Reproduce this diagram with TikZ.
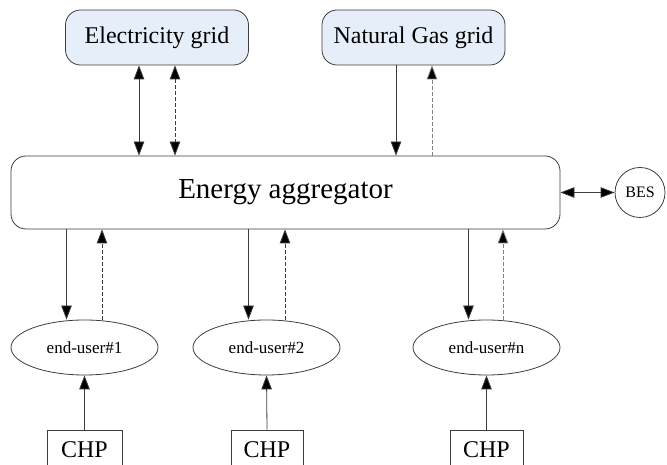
\documentclass[tikz,border=0pt]{standalone}
\usepackage{fontspec}
\setmainfont{Liberation Serif}
\newfontfamily\tnr{Liberation Serif}
\usetikzlibrary{arrows.meta,shapes.geometric}
\definecolor{gridblue}{RGB}{230,239,249}
\definecolor{linegray}{RGB}{60,60,60}
\begin{document}
\begin{tikzpicture}[x=1pt,y=1pt,
  every node/.style={inner sep=0pt,draw=linegray,line width=0.8pt},
  gridbox/.style={rounded corners=15pt,fill=gridblue,minimum width=183pt,minimum height=55pt,font=\tnr\fontsize{24}{28}\selectfont},
  userbox/.style={ellipse,minimum width=147pt,minimum height=55pt,font=\tnr\fontsize{17}{20}\selectfont},
  chpbox/.style={minimum height=40pt,font=\tnr\fontsize{24}{28}\selectfont},
  flow/.style={draw=linegray,line width=0.8pt,-{Triangle[length=14pt,width=10.5pt,fill=black]}},
  both/.style={flow,{Triangle[length=14pt,width=10.5pt,fill=black]}-{Triangle[length=14pt,width=10.5pt,fill=black]}},
  sig/.style={dash pattern=on 4pt off 2pt}]
\clip (0,0) rectangle (667,465);
% grids
\node[gridbox] (elec) at (157,427.5) {Electricity grid};
\node[gridbox] (gas) at (413.5,427.5) {Natural Gas grid};
% aggregator and storage
\node[rounded corners=15pt,minimum width=549pt,minimum height=73pt,font=\tnr\fontsize{29}{34}\selectfont] (agg) at (285.5,272.5) {Energy aggregator};
\node[circle,minimum size=50pt,font=\tnr\fontsize{16}{19}\selectfont] (bes) at (640,272.5) {BES};
% end-users
\node[userbox] (u1) at (84.5,117.5) {end-user\#1};
\node[userbox] (u2) at (266.5,117.5) {end-user\#2};
\node[userbox] (un) at (486.5,117.5) {end-user\#n};
\node[chpbox,minimum width=75pt] (chp1) at (84.5,15) {CHP};
\node[chpbox,minimum width=72pt] (chp2) at (267,15) {CHP};
\node[chpbox,minimum width=73pt] (chpn) at (486.5,15) {CHP};
% links to the grids
\draw[both] ([xshift=-18pt]elec.south) -- ([xshift=-18pt]elec.south |- agg.north);
\draw[both,sig] ([xshift=18pt]elec.south) -- ([xshift=18pt]elec.south |- agg.north);
\draw[flow] ([xshift=-17.5pt]gas.south) -- ([xshift=-17.5pt]gas.south |- agg.north);
\draw[flow,sig,draw=gray] ([xshift=18.5pt]gas.south |- agg.north) -- ([xshift=18.5pt]gas.south);
\draw[both] (agg.east) -- (bes.west);
% links to the end-users
\foreach \u/\c in {u1/chp1,u2/chp2,un/chpn}{
  \draw[flow] ([xshift=-18pt]\u.north |- agg.south) -- ([xshift=-18pt]\u.north);
  \draw[flow] (\c.north) -- (\u.south);
}
\draw[flow,sig] ([xshift=17.5pt]u1.north) -- ([xshift=17.5pt]u1.north |- agg.south);
\draw[flow,sig] ([xshift=18.5pt]u2.north) -- ([xshift=18.5pt]u2.north |- agg.south);
\draw[flow,sig,draw=gray] ([xshift=16.5pt]un.north) -- ([xshift=16.5pt]un.north |- agg.south);
\end{tikzpicture}
\end{document}
